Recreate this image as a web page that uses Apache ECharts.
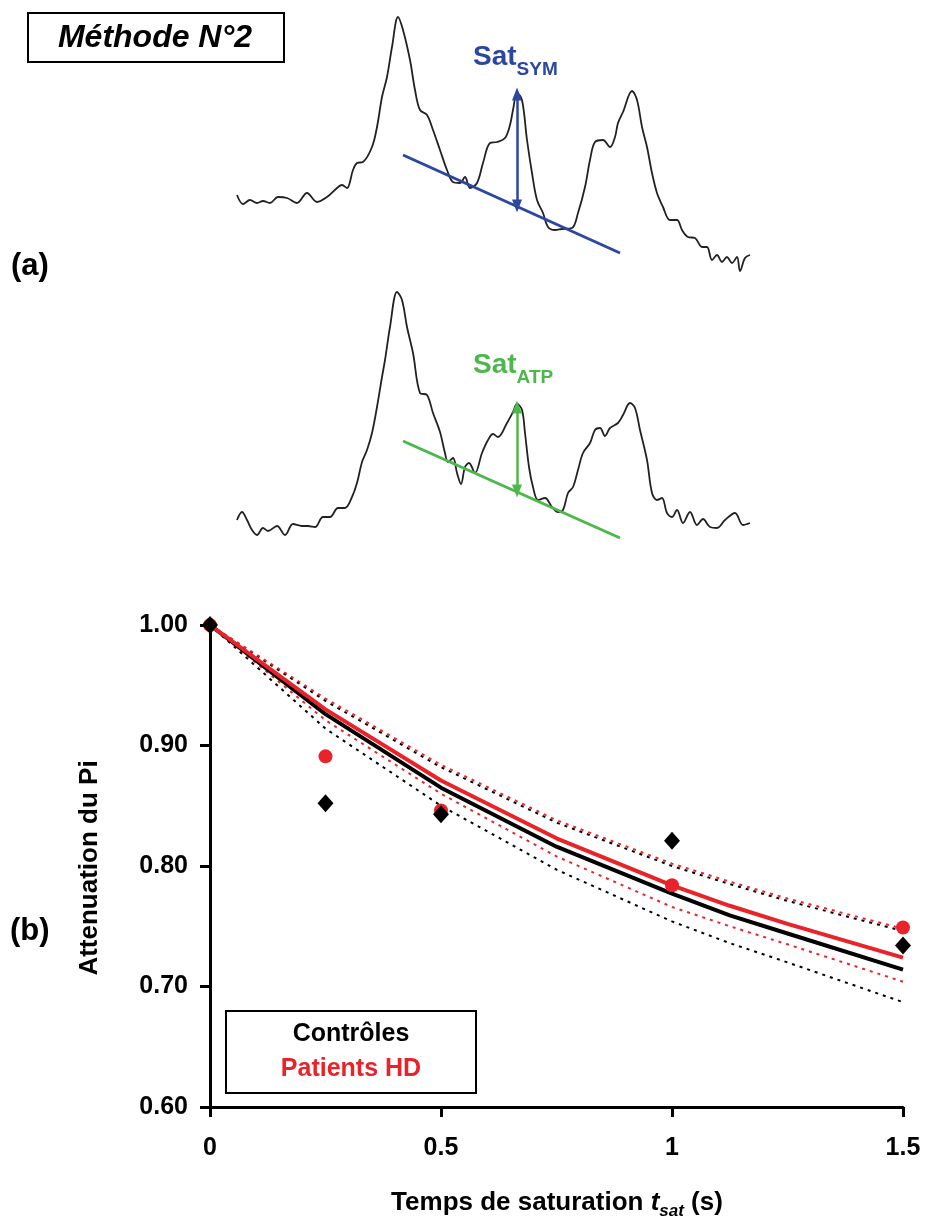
<!DOCTYPE html>
<html>
<head>
<meta charset="utf-8">
<script src="https://cdn.jsdelivr.net/npm/echarts@6/dist/echarts.min.js"></script>
<style>
  html, body { margin: 0; padding: 0; background: #fff; }
  #chart { width: 926px; height: 1222px; }
</style>
</head>
<body>
<div id="chart"></div>
<script>
// (a) spectra: [shift point, intensity]
const topSpectrum = [
  [1, 80], [7, 71], [14, 75], [21, 72], [27, 74], [34, 72], [42, 78], [51, 77], [61, 72],
  [71, 82], [81, 73], [91, 78], [101, 87], [106, 90], [111, 87], [117, 105], [121, 112],
  [127, 113], [136, 128], [141, 148], [146, 178], [151, 198], [156, 228], [162, 258],
  [167, 245], [174, 215], [179, 185], [184, 165], [191, 160], [197, 145], [204, 125],
  [211, 105], [217, 93], [224, 92], [229, 98], [234, 87], [241, 92], [247, 112], [254, 132],
  [261, 133], [269, 137], [274, 150], [277, 165], [281, 182], [286, 175], [291, 135],
  [296, 102], [301, 75], [307, 62], [312, 48], [319, 45], [326, 46], [336, 47], [342, 62],
  [349, 88], [354, 115], [359, 133], [367, 135], [374, 128], [379, 138], [382, 152],
  [387, 163], [396, 184], [401, 175], [406, 148], [411, 128], [416, 102], [421, 82],
  [427, 68], [434, 55], [441, 55], [446, 45], [452, 38], [459, 37], [466, 28], [471, 28],
  [476, 15], [481, 20], [486, 13], [491, 18], [496, 12], [501, 18], [504, 4], [509, 17], [514, 20]
];
const bottomSpectrum = [
  [1, 25], [6, 33], [11, 25], [16, 15], [21, 10], [27, 17], [32, 14], [41, 19], [49, 10],
  [57, 21], [66, 19], [72, 19], [79, 18], [87, 28], [94, 28], [102, 37], [109, 37], [116, 48],
  [121, 62], [126, 83], [131, 95], [136, 112], [141, 138], [146, 168], [149, 185], [154, 218],
  [161, 253], [166, 245], [171, 218], [177, 192], [184, 152], [191, 150], [197, 132],
  [204, 113], [209, 92], [212, 83], [217, 87], [221, 72], [225, 61], [229, 78], [233, 82],
  [239, 72], [246, 92], [252, 105], [257, 111], [262, 108], [271, 122], [277, 133],
  [281, 141], [286, 135], [289, 112], [293, 78], [297, 58], [302, 45], [309, 47], [316, 38],
  [322, 33], [327, 35], [332, 52], [337, 58], [342, 75], [347, 92], [354, 102], [359, 115],
  [364, 117], [369, 109], [374, 117], [382, 122], [387, 130], [394, 142], [399, 137],
  [404, 115], [411, 85], [416, 52], [421, 45], [426, 47], [431, 32], [436, 28], [441, 35],
  [447, 22], [454, 33], [461, 20], [467, 26], [474, 18], [481, 17], [489, 25], [499, 32],
  [507, 20], [514, 22]
];
const symBaseline = [[167, 120], [384, 22]];
const atpBaseline = [[167, 104], [384, 7]];
const symArrow = [[281, 69], [281, 181]];
const atpArrow = [[281, 54], [281, 138]];

// (b) attenuation du Pi vs t_sat
const tsat = [0, 0.25, 0.5, 1, 1.5];
const patientsPts = [1.0, 0.891, 0.846, 0.784, 0.749];
const controlesPts = [1.0, 0.852, 0.843, 0.821, 0.734];

const fitT = [0, 0.25, 0.5, 0.75, 1, 1.125, 1.25, 1.5];
const controlesFit = [1.0, 0.926, 0.865, 0.816, 0.777, 0.759, 0.744, 0.714];
const patientsFit = [1.0, 0.930, 0.871, 0.823, 0.784, 0.767, 0.752, 0.724];
const controlesHigh = [1.0, 0.937, 0.882, 0.836, 0.800, 0.785, 0.771, 0.746];
const patientsHigh = [1.0, 0.939, 0.884, 0.838, 0.802, 0.787, 0.773, 0.748];
const controlesLow = [1.0, 0.914, 0.850, 0.797, 0.754, 0.736, 0.720, 0.687];
const patientsLow = [1.0, 0.921, 0.860, 0.808, 0.766, 0.750, 0.735, 0.704];

const xTicks = ['0', '0.5', '1', '1.5'];
const yTicks = ['0.60', '0.70', '0.80', '0.90', '1.00'];

const FONT = "'Liberation Sans', Arial, sans-serif";
const RED = '#e8242a';
const BLUE = '#2b47a0';
const GREEN = '#4cb74a';

const zip = (xs, ys) => xs.map((x, i) => [x, ys[i]]);

const chart = echarts.init(document.getElementById('chart'));

const hiddenAxis = (gridIndex, max) => ({
  type: 'value', gridIndex, min: 0, max, show: false
});

const traceSeries = (idx, data) => ({
  type: 'line',
  xAxisIndex: idx,
  yAxisIndex: idx,
  data,
  smooth: 0.35,
  symbol: 'none',
  lineStyle: { color: '#222', width: 1.8 },
  z: 2
});

const baselineSeries = (idx, data, arrow, color) => ({
  type: 'line',
  xAxisIndex: idx,
  yAxisIndex: idx,
  data,
  symbol: 'none',
  lineStyle: { color, width: 3 },
  z: 3,
  markLine: {
    silent: true,
    symbol: ['triangle', 'triangle'],
    symbolSize: [10, 13],
    label: { show: false },
    lineStyle: { color, width: 2.5, type: 'solid' },
    data: [[{ coord: arrow[0] }, { coord: arrow[1] }]]
  }
});

const dotted = (data, color) => ({
  type: 'line',
  xAxisIndex: 2,
  yAxisIndex: 2,
  data: zip(fitT, data),
  symbol: 'none',
  lineStyle: { color, width: 2, type: [3, 5] },
  z: 2
});

const solid = (data, color) => ({
  type: 'line',
  xAxisIndex: 2,
  yAxisIndex: 2,
  data: zip(fitT, data),
  symbol: 'none',
  lineStyle: { color, width: 4 },
  z: 3
});

const satLabel = (y, sub, color) => ({
  type: 'text',
  x: 473, y,
  style: {
    text: `{m|Sat}{s|${sub}}`,
    verticalAlign: 'middle',
    rich: {
      m: { fontSize: 28, fontWeight: 'bold', fontFamily: FONT, fill: color, lineHeight: 44 },
      s: { fontSize: 19, fontWeight: 'bold', fontFamily: FONT, fill: color, verticalAlign: 'bottom' }
    }
  }
});

const option = {
  animation: false,
  textStyle: { fontFamily: FONT },
  grid: [
    { left: 236, top: 10, width: 514, height: 265 },
    { left: 236, top: 280, width: 514, height: 265 },
    { left: 210, top: 625, width: 693, height: 482 }
  ],
  xAxis: [
    hiddenAxis(0, 514),
    hiddenAxis(1, 514),
    {
      type: 'value',
      gridIndex: 2,
      min: 0,
      max: 1.5,
      interval: 0.5,
      axisLine: { lineStyle: { color: '#000', width: 3 } },
      axisTick: { length: 10, lineStyle: { color: '#000', width: 3 } },
      splitLine: { show: false },
      axisLabel: {
        margin: 29,
        color: '#000',
        fontSize: 25,
        fontWeight: 'bold',
        fontFamily: FONT,
        formatter: (v) => xTicks[Math.round(v / 0.5)]
      }
    }
  ],
  yAxis: [
    hiddenAxis(0, 265),
    hiddenAxis(1, 265),
    {
      type: 'value',
      gridIndex: 2,
      min: 0.6,
      max: 1.0,
      interval: 0.1,
      axisLine: { show: true, lineStyle: { color: '#000', width: 3 } },
      axisTick: { show: true, length: 10, lineStyle: { color: '#000', width: 3 } },
      splitLine: { show: false },
      axisLabel: {
        margin: 22,
        color: '#000',
        fontSize: 25,
        fontWeight: 'bold',
        fontFamily: FONT,
        formatter: (v) => yTicks[Math.round((v - 0.6) / 0.1)]
      }
    }
  ],
  series: [
    traceSeries(0, topSpectrum),
    traceSeries(1, bottomSpectrum),
    baselineSeries(0, symBaseline, symArrow, BLUE),
    baselineSeries(1, atpBaseline, atpArrow, GREEN),

    dotted(controlesLow, '#000'),
    dotted(patientsLow, RED),
    dotted(controlesHigh, '#000'),
    dotted(patientsHigh, RED),
    solid(controlesFit, '#000'),
    solid(patientsFit, RED),
    {
      name: 'Patients HD',
      type: 'scatter',
      xAxisIndex: 2,
      yAxisIndex: 2,
      data: zip(tsat, patientsPts),
      symbol: 'circle',
      symbolSize: 14,
      itemStyle: { color: RED, opacity: 1 },
      z: 5
    },
    {
      name: 'Contrôles',
      type: 'scatter',
      xAxisIndex: 2,
      yAxisIndex: 2,
      data: zip(tsat, controlesPts),
      symbol: 'diamond',
      symbolSize: [16, 18],
      itemStyle: { color: '#000', opacity: 1 },
      z: 6
    }
  ],
  graphic: [
    // title box
    {
      type: 'rect',
      shape: { x: 28, y: 13, width: 256, height: 49 },
      style: { fill: '#fff', stroke: '#000', lineWidth: 2 }
    },
    {
      type: 'text',
      x: 155, y: 38,
      style: {
        text: 'Méthode N°2',
        font: `italic bold 32px ${FONT}`,
        fill: '#000',
        align: 'center',
        verticalAlign: 'middle'
      }
    },
    {
      type: 'text',
      x: 11, y: 266,
      style: { text: '(a)', font: `bold 31px ${FONT}`, fill: '#000', verticalAlign: 'middle' }
    },
    {
      type: 'text',
      x: 10, y: 931,
      style: { text: '(b)', font: `bold 31px ${FONT}`, fill: '#000', verticalAlign: 'middle' }
    },
    satLabel(57, 'SYM', BLUE),
    satLabel(365, 'ATP', GREEN),
    // legend box
    {
      type: 'rect',
      shape: { x: 226, y: 1011, width: 250, height: 82 },
      style: { fill: '#fff', stroke: '#000', lineWidth: 2 },
      z: 10
    },
    {
      type: 'text',
      x: 351, y: 1034, z: 11,
      style: { text: 'Contrôles', font: `bold 25px ${FONT}`, fill: '#000', align: 'center', verticalAlign: 'middle' }
    },
    {
      type: 'text',
      x: 351, y: 1069, z: 11,
      style: { text: 'Patients HD', font: `bold 25px ${FONT}`, fill: RED, align: 'center', verticalAlign: 'middle' }
    },
    // axis titles
    {
      type: 'text',
      x: 90, y: 868,
      rotation: Math.PI / 2,
      style: { text: 'Attenuation du Pi', font: `bold 26px ${FONT}`, fill: '#000', align: 'center', verticalAlign: 'middle' }
    },
    {
      type: 'text',
      x: 557, y: 1203,
      style: {
        text: '{n|Temps de saturation }{i|t}{s|sat}{n| (s)}',
        align: 'center',
        verticalAlign: 'middle',
        rich: {
          n: { fontSize: 26, fontWeight: 'bold', fontFamily: FONT, fill: '#000', lineHeight: 34 },
          i: { fontSize: 26, fontWeight: 'bold', fontStyle: 'italic', fontFamily: FONT, fill: '#000', lineHeight: 34 },
          s: { fontSize: 17, fontWeight: 'bold', fontStyle: 'italic', fontFamily: FONT, fill: '#000', verticalAlign: 'bottom' }
        }
      }
    }
  ]
};

chart.setOption(option);
</script>
</body>
</html>
